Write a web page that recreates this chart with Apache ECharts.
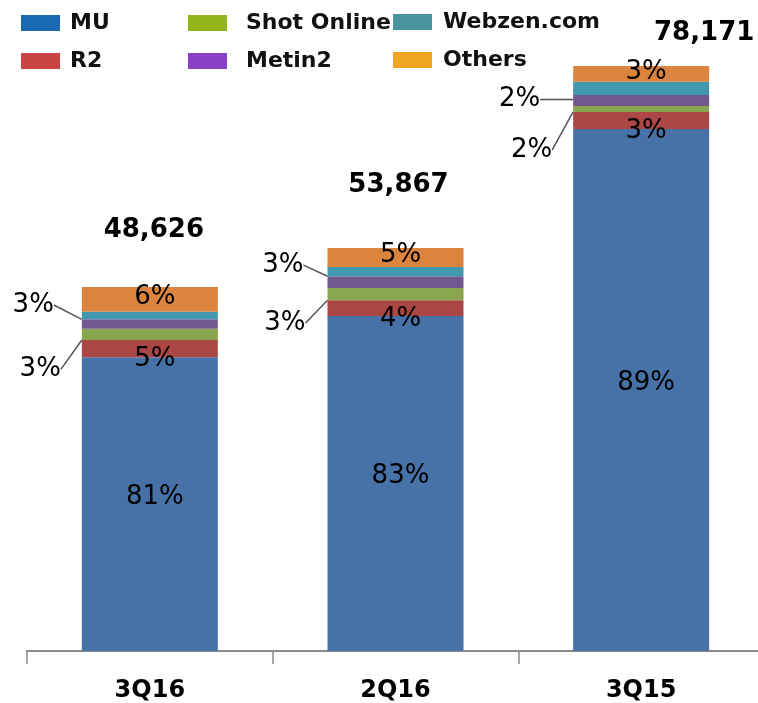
<!DOCTYPE html>
<html>
<head>
<meta charset="utf-8">
<script src="https://cdn.jsdelivr.net/npm/echarts@6/dist/echarts.min.js"></script>
<style>
  html, body { margin: 0; padding: 0; background: #fff; overflow: hidden; }
  #main { width: 764px; height: 703px; }
</style>
</head>
<body>
<div id="main"></div>
<script>
// quarters and revenue split
var categories = ['3Q16', '2Q16', '3Q15'];
var mu         = [39260, 44770, 69767];
var r2         = [2305, 2100, 2268];
var shotOnline = [1505, 1645, 800];
var metin2     = [1252, 1565, 1467];
var webzen     = [1012, 1245, 1774];
var others     = [3292, 2542, 2095];
var totals     = [48626, 53867, 78171];

// share labels as printed on the chart
var muPct     = ['81%', '83%', '89%'];
var r2Pct     = ['5%', '4%', '3%'];
var shotPct   = ['3%', '3%', '2%'];
var metinPct  = ['3%', '3%', '2%'];
var othersPct = ['6%', '5%', '3%'];

var font = 'DejaVu Sans';
var barColors = {
  MU: '#4672A7', R2: '#AA4643', 'Shot Online': '#89A54E',
  Metin2: '#71588F', 'Webzen.com': '#4198AF', Others: '#DB843D'
};
var legendColors = {
  MU: '#1A69B3', R2: '#C84542', 'Shot Online': '#93B51A',
  Metin2: '#8B3FC4', 'Webzen.com': '#45949E', Others: '#F0A623'
};

// label nudges (layout only)
var metinMove = [[-23, -19], [-19, -17], [-28, -1]];
var shotMove  = [[-16, 35], [-17, 29], [-16, 41]];
var totalOffsets = [[4, -57], [3, -63], [63, -33]];

function legendCol(names, left, top, pad) {
  return {
    orient: 'vertical',
    left: left,
    top: top,
    padding: 0,
    itemWidth: 39,
    itemHeight: 16,
    itemGap: 16,
    selectedMode: false,
    icon: 'rect',
    textStyle: {
      fontFamily: font, fontSize: 22, fontWeight: 'bold', color: '#111',
      padding: [3, 0, 0, pad]
    },
    data: names.map(function (n) {
      return { name: n, itemStyle: { color: legendColors[n] } };
    })
  };
}

function pctLabel(texts, offset) {
  return {
    show: true,
    position: 'inside',
    offset: offset,
    fontFamily: font,
    fontSize: 26,
    color: '#000',
    textBorderWidth: 0,
    formatter: function (p) { return texts[p.dataIndex]; }
  };
}

function sideSeries(name, values, texts, moves) {
  return {
    name: name,
    type: 'bar',
    stack: 'rev',
    data: values,
    itemStyle: { color: barColors[name] },
    label: {
      show: true,
      position: 'left',
      distance: 5,
      fontFamily: font,
      fontSize: 26,
      color: '#000',
      formatter: function (p) { return texts[p.dataIndex]; }
    },
    labelLine: { show: true, lineStyle: { color: '#555', width: 1.5 } },
    labelLayout: function (p) {
      var m = moves[p.dataIndex];
      return { dx: m[0], dy: m[1] };
    }
  };
}

var myChart = echarts.init(document.getElementById('main'));
var option = {
  animation: false,
  legend: [
    legendCol(['MU', 'R2'], 21, 12, 5),
    legendCol(['Shot Online', 'Metin2'], 188, 12, 14),
    legendCol(['Webzen.com', 'Others'], 393, 11, 6)
  ],
  grid: { left: 27, right: 0, top: 66, bottom: 51, containLabel: false },
  xAxis: {
    type: 'category',
    data: categories,
    axisLine: { lineStyle: { color: '#8c8c8c', width: 2 } },
    axisTick: { show: true, length: 13, lineStyle: { color: '#8c8c8c', width: 1.5 } },
    axisLabel: { fontFamily: font, fontSize: 24, fontWeight: 'bold', color: '#000', margin: 28 }
  },
  yAxis: { type: 'value', show: false, min: 0, max: Math.max.apply(null, totals) },
  series: [
    {
      name: 'MU', type: 'bar', stack: 'rev', barWidth: 136, data: mu,
      itemStyle: { color: barColors.MU },
      label: pctLabel(muPct, [5, -7])
    },
    {
      name: 'R2', type: 'bar', stack: 'rev', data: r2,
      itemStyle: { color: barColors.R2 },
      label: pctLabel(r2Pct, [5, 11])
    },
    sideSeries('Shot Online', shotOnline, shotPct, shotMove),
    sideSeries('Metin2', metin2, metinPct, metinMove),
    {
      name: 'Webzen.com', type: 'bar', stack: 'rev', data: webzen,
      itemStyle: { color: barColors['Webzen.com'] }
    },
    {
      name: 'Others', type: 'bar', stack: 'rev', data: others,
      itemStyle: { color: barColors.Others },
      label: pctLabel(othersPct, [5, -2])
    },
    {
      name: 'total', type: 'scatter', symbolSize: 0, silent: true,
      itemStyle: { opacity: 1 },
      data: totals.map(function (v, i) {
        return { value: v, label: { offset: totalOffsets[i] } };
      }),
      label: {
        show: true,
        position: 'inside',
        opacity: 1,
        fontFamily: font,
        fontSize: 26,
        fontWeight: 'bold',
        color: '#000',
        textBorderWidth: 0,
        formatter: function (p) { return p.value.toLocaleString('en-US'); }
      }
    }
  ]
};
option && myChart.setOption(option);
</script>
</body>
</html>
